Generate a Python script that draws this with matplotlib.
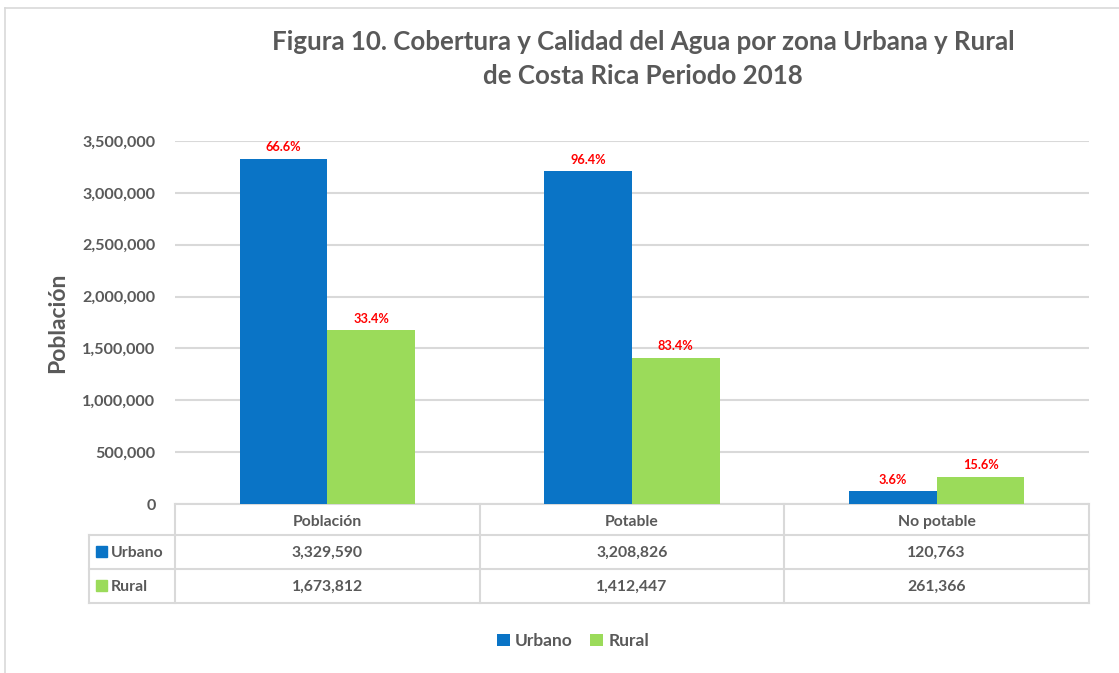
import numpy as np
import matplotlib.pyplot as plt
from matplotlib.lines import Line2D
from matplotlib.patches import Rectangle
from matplotlib.ticker import FuncFormatter

# datos
categorias = ["Población", "Potable", "No potable"]
urbano = [3329590, 3208826, 120763]
rural = [1673812, 1412447, 261366]
pct_urbano = ["66.6%", "96.4%", "3.6%"]
pct_rural = ["33.4%", "83.4%", "15.6%"]
series = ["Urbano", "Rural"]

azul = "#0A74C6"
verde = "#9BDB5A"
gris = "#595959"
linea = "#D9D9D9"

plt.rcParams['font.family'] = ['Lato', 'DejaVu Sans']

W, H = 1119, 673
fig = plt.figure(figsize=(W / 100, H / 100), dpi=100)

def fx(px):
    return px / W

def fy(py):
    return 1 - py / H

# marco exterior
fig.add_artist(Line2D([fx(5), fx(5)], [fy(8), fy(680)], color=linea, lw=1.2))
fig.add_artist(Line2D([fx(5), fx(1125)], [fy(8), fy(8)], color=linea, lw=1.2))

x0, x1, ytop, ybot = 175, 1089, 141, 504
ax = fig.add_axes([fx(x0), fy(ybot), fx(x1 - x0), (ybot - ytop) / H])

x = np.arange(len(categorias))
w = 0.288
b1 = ax.bar(x - w / 2, urbano, w, color=azul, label=series[0], zorder=3)
b2 = ax.bar(x + w / 2, rural, w, color=verde, label=series[1], zorder=3)

for barras, pct in [(b1, pct_urbano), (b2, pct_rural)]:
    for r, t in zip(barras, pct):
        ax.annotate(t, (r.get_x() + r.get_width() / 2, r.get_height()),
                    xytext=(0, 4), textcoords="offset points",
                    ha="center", va="bottom", color="#FF0000",
                    fontsize=9.2, fontweight="bold")

ax.set_xlim(-0.5, len(categorias) - 0.5)
ax.set_ylim(0, 3500000)
ax.set_yticks(np.arange(0, 3500001, 500000))
ax.yaxis.set_major_formatter(FuncFormatter(lambda v, p: f"{int(v):,}"))
ax.set_xticks([])
ax.grid(axis="y", color=linea, lw=1.5, zorder=0)
ax.tick_params(axis="y", length=0, pad=14, labelsize=11.6, labelcolor=gris)
for lab in ax.get_yticklabels():
    lab.set_fontweight("bold")
for s in ["top", "right", "left"]:
    ax.spines[s].set_visible(False)
ax.spines["bottom"].set_color(linea)
ax.spines["bottom"].set_linewidth(1.5)

ax.set_ylabel("Población", fontsize=16.5, fontweight="bold", color=gris, labelpad=10)

fig.text(fx(643), fy(42), "Figura 10. Cobertura y Calidad del Agua por zona Urbana y Rural",
         ha="center", va="center", fontsize=18.6, fontweight="bold", color=gris)
fig.text(fx(643), fy(76), "de Costa Rica Periodo 2018",
         ha="center", va="center", fontsize=18.6, fontweight="bold", color=gris)

# tabla de datos
filas = [504, 535, 569, 603]
xl = 89
col_w = (x1 - x0) / len(categorias)
for yy in filas[1:]:
    fig.add_artist(Line2D([fx(xl), fx(x1)], [fy(yy), fy(yy)], color=linea, lw=1.5))
fig.add_artist(Line2D([fx(xl), fx(xl)], [fy(filas[1]), fy(filas[3])], color=linea, lw=1.5))
for i in range(len(categorias) + 1):
    xx = x0 + i * col_w
    fig.add_artist(Line2D([fx(xx), fx(xx)], [fy(filas[0]), fy(filas[3])], color=linea, lw=1.5))

for i, c in enumerate(categorias):
    cx = fx(x0 + (i + 0.5) * col_w)
    fig.text(cx, fy(522), c, ha="center", va="center", fontsize=11.3, fontweight="bold", color=gris)
    fig.text(cx, fy(553), f"{urbano[i]:,}", ha="center", va="center", fontsize=11.3, fontweight="bold", color=gris)
    fig.text(cx, fy(587), f"{rural[i]:,}", ha="center", va="center", fontsize=11.3, fontweight="bold", color=gris)

for nombre, col, yc in [(series[0], azul, 552), (series[1], verde, 586)]:
    fig.add_artist(Rectangle((fx(96), fy(yc + 5)), fx(11), 11 / H, color=col))
    fig.text(fx(111), fy(yc + 1), nombre, ha="left", va="center", fontsize=11.3, fontweight="bold", color=gris)

fig.legend(handles=[b1, b2], loc="center", bbox_to_anchor=(fx(573), fy(641)), ncol=2,
           frameon=False, handlelength=0.75, handleheight=0.75, handletextpad=0.3,
           columnspacing=1.0, prop={"size": 12.5, "weight": "bold"}, labelcolor=gris)

fig.savefig("out.png", dpi=100)
